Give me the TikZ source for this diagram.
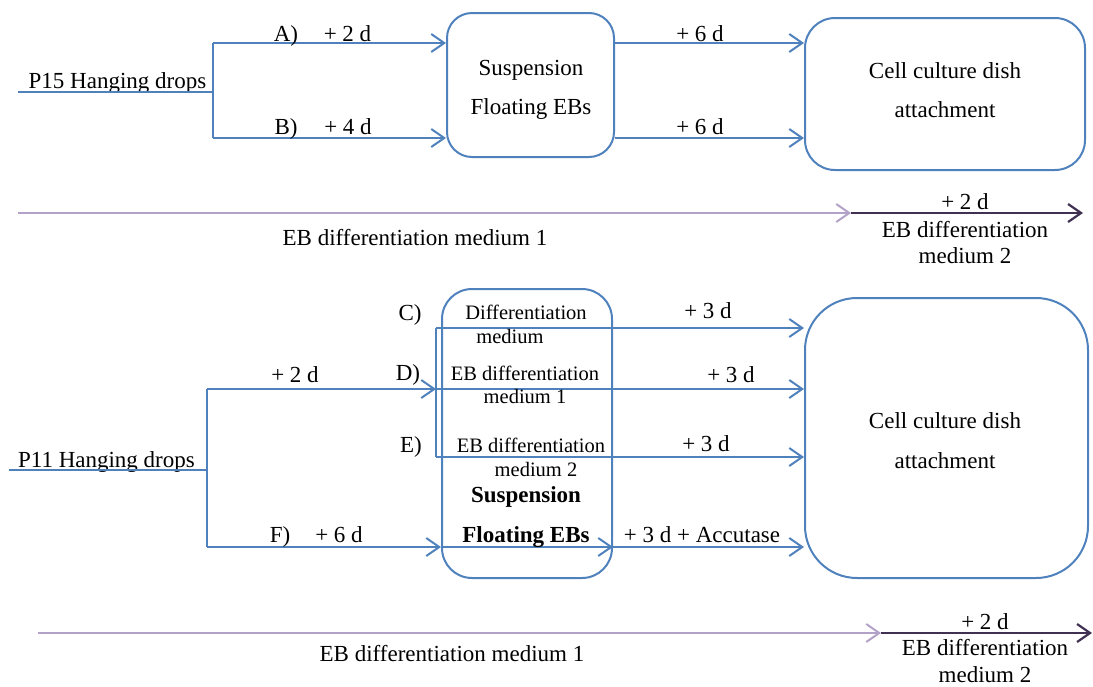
\documentclass[tikz,border=0pt]{standalone}
\usepackage{fontspec}
\setmainfont{Liberation Serif}
\usetikzlibrary{arrows.meta}
\definecolor{lblue}{HTML}{4F81BD}
\definecolor{lpurple}{HTML}{B3A2C7}
\definecolor{dpurple}{HTML}{403152}
\begin{document}
\begin{tikzpicture}[x=1pt,y=-1pt,
  line/.style={draw=lblue,line width=2pt},
  arr/.style={line,-{Straight Barb[length=13pt,width=18pt]}},
  larr/.style={draw=lpurple,line width=2pt,-{Straight Barb[length=13pt,width=18pt]}},
  darr/.style={draw=dpurple,line width=2.2pt,-{Straight Barb[length=13pt,width=18pt]}},
  box/.style={draw=lblue,line width=2pt},
  txt/.style={font=\fontsize{23}{27}\selectfont,inner sep=0pt,anchor=base},
  sml/.style={font=\fontsize{20.5}{24}\selectfont,inner sep=0pt,anchor=base},
  bld/.style={font=\fontsize{23}{27}\selectfont\bfseries,inner sep=0pt,anchor=base}
]
\useasboundingbox (0,0) rectangle (1093,686);

% ---------- top section ----------
\node[box,rounded corners=25pt,minimum width=167pt,minimum height=144pt] (s1) at (530.5,85) {};
\node[box,rounded corners=30pt,minimum width=280pt,minimum height=152pt] (c1) at (945,94) {};

\node[txt] (p15) at (117.5,88) {P15 Hanging drops};
\coordinate (p15s) at (18,92);
\coordinate (j1) at (213,92);
\coordinate (j1a) at (213,43);
\coordinate (j1b) at (213,138);
\draw[line] (p15s) -- (j1);
\draw[line] (j1a) -- (j1b);
\draw[arr] (j1a) -- (j1a -| s1.west);
\draw[arr] (j1b) -- (j1b -| s1.west);
\draw[arr] (j1a -| s1.east) -- (j1a -| c1.west);
\draw[arr] (j1b -| s1.east) -- (j1b -| c1.west);

\node[txt] (la) at (286,41) {A)};
\node[txt] (la2) at (347.5,41) {+ 2 d};
\node[txt] (lb) at (286,134) {B)};
\node[txt] (lb2) at (348,134) {+ 4 d};
\node[txt] (l6a) at (700,41) {+ 6 d};
\node[txt] (l6b) at (700,134) {+ 6 d};

\node[txt] (s1t1) at (531,75) {Suspension};
\node[txt] (s1t2) at (531,114) {Floating EBs};
\node[txt] (c1t1) at (945,78) {Cell culture dish};
\node[txt] (c1t2) at (945,117) {attachment};

% timeline 1
\coordinate (t1s) at (18,213);
\coordinate (t1m) at (851,213);
\coordinate (t1e) at (1083,213);
\draw[larr] (t1s) -- (t1m);
\draw[darr] (t1m) -- (t1e);
\node[txt] (t1a) at (965,209) {+ 2 d};
\node[txt] (t1b) at (965,237) {EB differentiation};
\node[txt] (t1c) at (965,263) {medium 2};
\node[txt] (t1d) at (415,245) {EB differentiation medium 1};

% ---------- bottom section ----------
\node[box,rounded corners=30pt,minimum width=170pt,minimum height=289pt] (s2) at (527,433.5) {};
\node[box,rounded corners=52pt,minimum width=283pt,minimum height=280pt] (c2) at (946.5,438) {};

\node[txt] (p11) at (106.5,467) {P11 Hanging drops};
\coordinate (p11s) at (9,470);
\coordinate (j2) at (207,470);
\coordinate (j2a) at (207,389);
\coordinate (j2b) at (207,547);
\draw[line] (p11s) -- (j2);
\draw[line] (j2a) -- (j2b);

\coordinate (bkC) at (436,328);
\coordinate (bkD) at (436,389);
\coordinate (bkE) at (436,457);
\draw[line] (bkC) -- (bkE);
\draw[arr] (j2a) -- (bkD);
\draw[arr] (bkC) -- (bkC -| c2.west);
\draw[arr] (bkD) -- (bkD -| c2.west);
\draw[arr] (bkE) -- (bkE -| c2.west);
\draw[arr] (j2b) -- (j2b -| s2.west);
\draw[arr] (j2b -| s2.west) -- (j2b -| s2.east);
\draw[arr] (j2b -| s2.east) -- (j2b -| c2.west);

\node[txt] (l2d) at (295,382) {+ 2 d};
\node[txt] (lc) at (410,320) {C)};
\node[txt] (ld) at (408,380) {D)};
\node[txt] (le) at (411,452) {E)};
\node[txt] (lf) at (280,542) {F)};
\node[txt] (lf2) at (339,542) {+ 6 d};
\node[txt] (l3c) at (708,318) {+ 3 d};
\node[txt] (l3d) at (731,382) {+ 3 d};
\node[txt] (l3e) at (706,451) {+ 3 d};
\node[txt] (l3f) at (702,542) {+ 3 d + Accutase};

\node[sml] (s2a) at (526,319) {Differentiation};
\node[sml] (s2b) at (510,343) {medium};
\node[sml] (s2c) at (525,380) {EB differentiation};
\node[sml] (s2d) at (525,403) {medium 1};
\node[sml] (s2e) at (531,452) {EB differentiation};
\node[sml] (s2f) at (536,476) {medium 2};
\node[bld] (s2g) at (526,502) {Suspension};
\node[bld] (s2h) at (526,542) {Floating EBs};

\node[txt] (c2t1) at (945,428) {Cell culture dish};
\node[txt] (c2t2) at (945,468) {attachment};

% timeline 2
\coordinate (t2s) at (38,633);
\coordinate (t2m) at (881,633);
\coordinate (t2e) at (1092,633);
\draw[larr] (t2s) -- (t2m);
\draw[darr] (t2m) -- (t2e);
\node[txt] (t2a) at (985,629) {+ 2 d};
\node[txt] (t2b) at (985,655) {EB differentiation};
\node[txt] (t2c) at (985,682) {medium 2};
\node[txt] (t2d) at (452,661) {EB differentiation medium 1};
\end{tikzpicture}
\end{document}
